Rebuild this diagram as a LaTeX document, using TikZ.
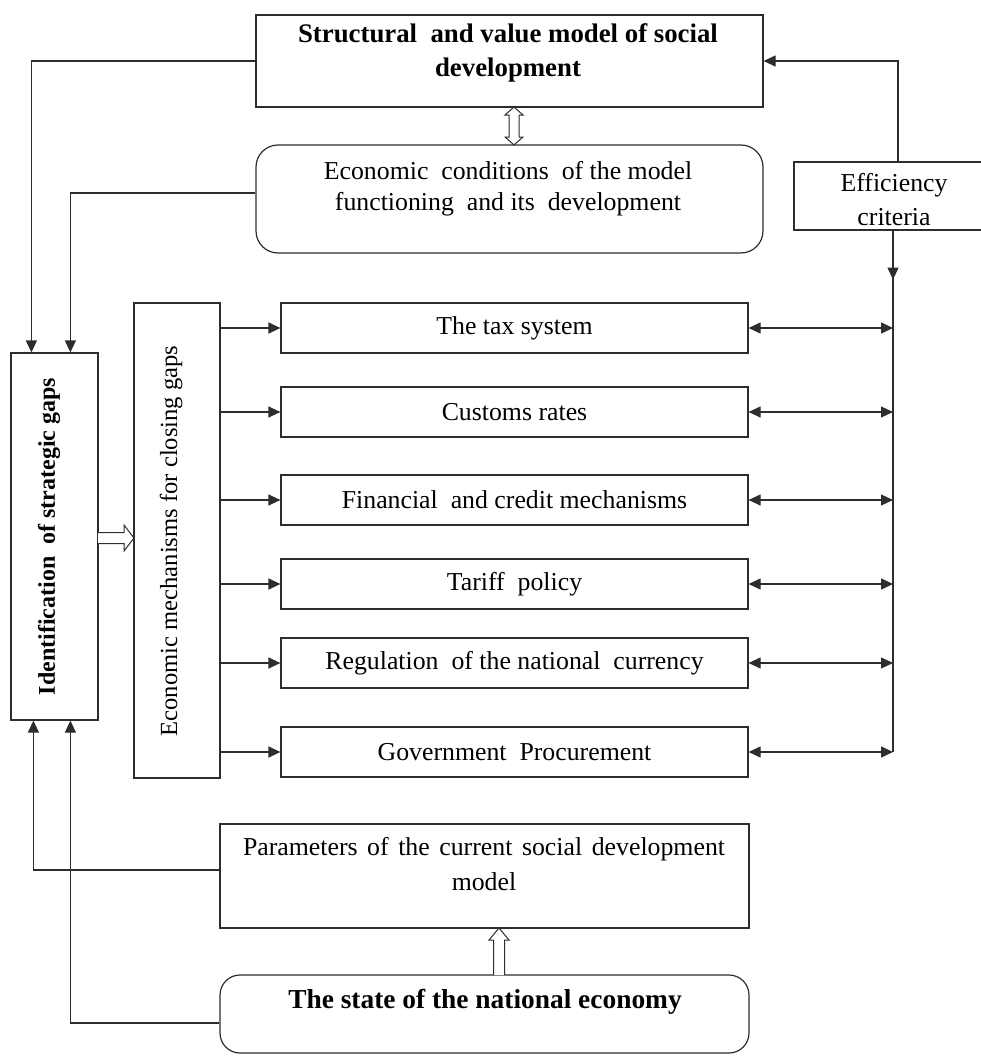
\documentclass[tikz,border=0pt]{standalone}
\usepackage{fontspec}
\setmainfont{Liberation Serif}
\usetikzlibrary{arrows.meta,calc}
\definecolor{linec}{RGB}{45,45,45}
\begin{document}
\begin{tikzpicture}[x=1pt,y=-1pt,
  box/.style={draw=linec,line width=1.2pt,inner sep=0pt},
  rbox/.style={box,rounded corners=22pt},
  txt/.style={font=\fontsize{25.8}{31}\selectfont,align=center,inner sep=0pt},
  btxt/.style={font=\bfseries\fontsize{26.8}{34}\selectfont,align=center,inner sep=0pt},
  ln/.style={draw=linec,line width=1.2pt},
  arr/.style={-{Triangle[length=12pt,width=11pt]}},
  darr/.style={{Triangle[length=12pt,width=11pt]}-{Triangle[length=12pt,width=11pt]}},
  hollow/.style={draw=linec,line width=1pt,fill=white,line join=miter}]
\useasboundingbox (0,0) rectangle (981,1057);

% boxes
\node[box,minimum width=507pt,minimum height=92pt] (top) at (509.5,61) {};
\node[btxt] (topT) at (508,53) {Structural\ \ and value model of social\\development};

\node[rbox,minimum width=507pt,minimum height=108pt] (cond) at (509.5,199) {};
\node[txt] (condT) at (508,188.5) {Economic\ \ conditions\ \ of the model\\functioning\ \ and its\ \ development};

\node[box,minimum width=200pt,minimum height=68pt] (eff) at (894,196) {};
\node[txt,font=\fontsize{25.8}{34}\selectfont] (effT) at (894,200) {Efficiency\\criteria};

\node[box,minimum width=87pt,minimum height=367pt] (ident) at (54.5,536.5) {};
\node[btxt,font=\bfseries\fontsize{24}{30}\selectfont,rotate=90] (identT) at (49,536.5) {Identification\ \ of strategic gaps};

\node[box,minimum width=86pt,minimum height=475pt] (mech) at (177,540.5) {};
\node[txt,font=\fontsize{24.6}{30}\selectfont,rotate=90] (mechT) at (171,541) {Economic mechanisms for closing gaps};

\foreach \n/\yy/\t in {1/328/{The tax system},2/412/{Customs rates},3/500/{Financial\ \ and credit mechanisms},4/584/{Tariff\ \ policy},5/663/{Regulation\ \ of the national\ \ currency},6/752/{Government\ \ Procurement}}{
  \node[box,minimum width=467pt,minimum height=50pt] (b\n) at (514.5,\yy) {};
  \node[txt] (b\n T) at (514.5,\yy) {\t};
}

\node[box,minimum width=529pt,minimum height=104pt] (params) at (484.5,876) {};
\node[txt,font=\fontsize{25.8}{35}\selectfont] (paramsT) at (484,864.5) {\makebox[482pt][s]{Parameters of the current social development}\\model};

\node[rbox,rounded corners=20pt,minimum width=529pt,minimum height=78pt] (state) at (484.5,1014) {};
\node[btxt,font=\bfseries\fontsize{27.4}{34}\selectfont] (stateT) at (485,1002) {The state of the national economy};

% connectors left
\draw[ln,arr] (top.west) -| ([xshift=21pt]ident.north west);
\draw[ln,arr] ([yshift=6pt]cond.west) -| ([xshift=60pt]ident.north west);
\draw[ln,arr] ([yshift=6pt]params.west) -| ([xshift=23pt]ident.south west);
\draw[ln,arr] ([yshift=-9pt]state.west) -| ([xshift=60pt]ident.south west);

% efficiency
\draw[ln,arr] ([xshift=4pt]eff.north) |- (top.east);
\coordinate (bus) at ([xshift=-1pt]eff.south);
\draw[ln] (bus) -- (bus |- b6.east);
\draw[ln,arr] (bus) -- ++(0,49);

\foreach \n in {1,...,6}{
  \draw[ln,arr] (mech.east |- b\n.west) -- (b\n.west);
  \draw[ln,darr] (b\n.east) -- (b\n.east -| bus);
}

% hollow arrows
\draw[hollow] (98,532.5) -- (124,532.5) -- (124,525) -- (134,538) -- (124,551) -- (124,543.5) -- (98,543.5);
\draw[hollow] (514,107) -- (523,115) -- (519,115) -- (519,137) -- (523,137) -- (514,145) -- (505,137) -- (509,137) -- (509,115) -- (505,115) -- cycle;
\draw[hollow] (493.5,975) -- (493.5,940) -- (489,940) -- (499,928) -- (509,940) -- (504.5,940) -- (504.5,975);
\end{tikzpicture}
\end{document}
